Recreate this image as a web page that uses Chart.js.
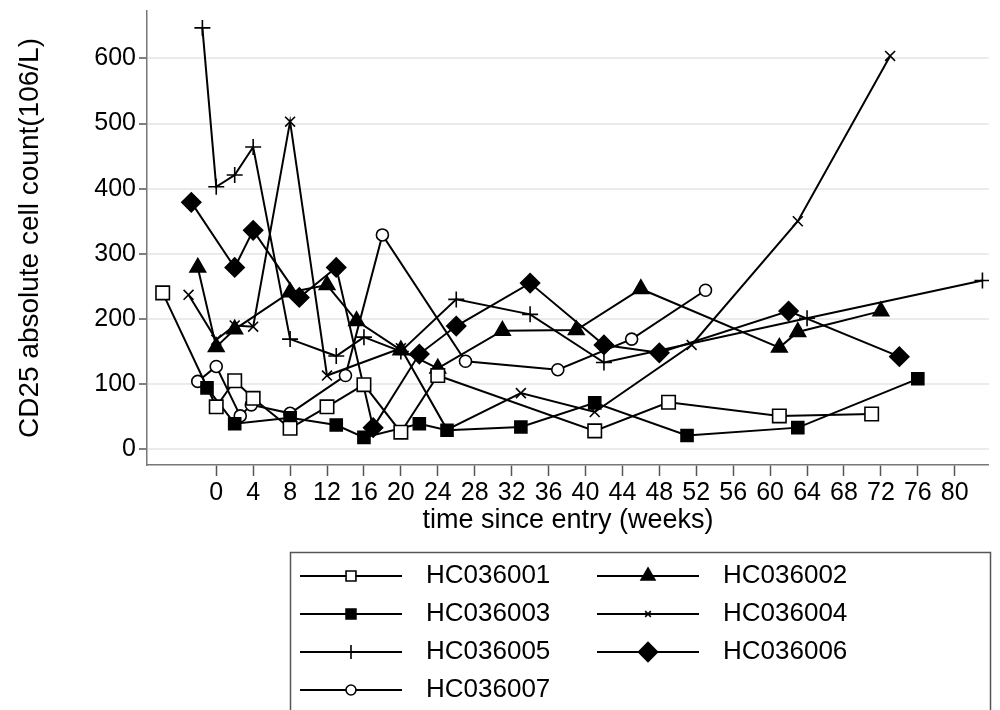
<!DOCTYPE html>
<html>
<head>
<meta charset="utf-8">
<script src="https://cdn.jsdelivr.net/npm/chart.js@4"></script>
<style>
  html, body { margin: 0; padding: 0; background: #fff; }
  #wrap { width: 1000px; height: 710px; }
</style>
</head>
<body>
<div id="wrap"><canvas id="chart" width="1000" height="710"></canvas></div>
<script>
// тики осей
const xTicks = [0, 4, 8, 12, 16, 20, 24, 28, 32, 36, 40, 44, 48, 52, 56, 60, 64, 68, 72, 76, 80];
const yTicks = [0, 100, 200, 300, 400, 500, 600];

// пациенты
const patients = ["HC036001", "HC036002", "HC036003", "HC036004", "HC036005", "HC036006", "HC036007"];

// недели и значения CD25 по каждому пациенту
const weeks001 = [-5.8, 0, 2, 4, 8, 12, 16, 20, 24, 41, 49, 61, 71];
const cd25_001 = [240, 65, 105, 78, 32, 65, 99, 26, 113, 28, 72, 51, 54];

const weeks002 = [-2, 0, 2, 8, 12, 15.2, 20, 24, 31, 39, 46, 61, 63, 72];
const cd25_002 = [279, 157, 184, 241, 252, 197, 152, 124, 182, 183, 246, 156, 180, 212];

const weeks003 = [-1, 2, 8, 13, 16, 22, 25, 33, 41, 51, 63, 76];
const cd25_003 = [94, 39, 48, 37, 18, 39, 29, 34, 71, 21, 33, 108];

const weeks004 = [-3, 0, 2, 4, 8, 12, 20, 25, 33, 41, 51.5, 63, 73];
const cd25_004 = [237, 168, 190, 188, 503, 113, 155, 30, 86, 57, 160, 350, 604];

const weeks005 = [-1.5, 0, 2, 4, 8, 13, 16, 20, 26, 34, 42, 64, 83];
const cd25_005 = [647, 403, 421, 464, 169, 143, 172, 150, 230, 207, 133, 201, 259];

const weeks006 = [-2.7, 2, 4, 9, 13, 17, 22, 26, 34, 42, 48, 62, 74];
const cd25_006 = [379, 279, 336, 233, 279, 33, 146, 189, 255, 160, 148, 212, 142];

const weeks007 = [-2, 0, 2.6, 3.8, 8, 14, 18, 27, 37, 45, 53];
const cd25_007 = [104, 127, 51, 68, 55, 113, 329, 135, 122, 169, 244];


// склеиваем x и y в точки
function points(xs, ys) {
  return xs.map((x, i) => ({ x: x, y: ys[i] }));
}

// стиль серии
function series(label, xs, ys, style, radius, filled) {
  return {
    label: label,
    data: points(xs, ys),
    borderColor: "#000",
    borderWidth: 2,
    pointStyle: style,
    pointRadius: radius,
    pointBorderWidth: 1.6,
    pointBorderColor: "#000",
    pointBackgroundColor: filled ? "#000" : "#fff",
    tension: 0
  };
}

const datasets = [
  series(patients[0], weeks001, cd25_001, "rect", 9.5, false),
  series(patients[1], weeks002, cd25_002, "triangle", 9, true),
  series(patients[2], weeks003, cd25_003, "rect", 8.5, true),
  series(patients[3], weeks004, cd25_004, "crossRot", 7, false),
  series(patients[4], weeks005, cd25_005, "cross", 8, false),
  series(patients[5], weeks006, cd25_006, "rectRot", 9.5, true),
  series(patients[6], weeks007, cd25_007, "circle", 6, false)
];

// размеры маркеров в легенде
const legendRadius = [7, 8, 7, 4, 7, 9.5, 5];

const fontFamily = '"Liberation Sans", Arial, sans-serif';


// легенда в рамке под графиком
const boxLegend = {
  id: "boxLegend",
  afterDraw(chart) {
    const ctx = chart.ctx;
    ctx.save();
    ctx.strokeStyle = "#555";
    ctx.lineWidth = 1.5;
    ctx.strokeRect(290.5, 552.5, 700, 200);

    chart.data.datasets.forEach((ds, i) => {
      const col = i % 2;
      const row = Math.floor(i / 2);
      const x0 = col === 0 ? 300 : 597;
      const y = 576 + row * 38;

      ctx.strokeStyle = "#000";
      ctx.lineWidth = 2;
      ctx.beginPath();
      ctx.moveTo(x0, y);
      ctx.lineTo(x0 + 102, y);
      ctx.stroke();

      ctx.fillStyle = ds.pointBackgroundColor;
      ctx.strokeStyle = "#000";
      ctx.lineWidth = 1.6;
      Chart.helpers.drawPoint(ctx, {
        pointStyle: ds.pointStyle,
        radius: legendRadius[i],
        borderWidth: 1.6,
        rotation: 0
      }, x0 + 51, y);

      ctx.fillStyle = "#000";
      ctx.font = "26px " + fontFamily;
      ctx.textBaseline = "middle";
      ctx.textAlign = "left";
      ctx.fillText(ds.label, x0 + 126, y);
    });
    ctx.restore();
  }
};


// создаем график
const chart = new Chart(document.getElementById("chart"), {
  type: "line",
  data: { datasets: datasets },
  plugins: [boxLegend],
  options: {
    responsive: false,
    animation: false,
    devicePixelRatio: 1,
    layout: { padding: { left: 0, right: 0, top: 8, bottom: 173 } },
    plugins: {
      legend: { display: false },
      tooltip: { enabled: false }
    },
    scales: {
      x: {
        type: "linear",
        min: -7.5,
        max: 83.7,
        afterBuildTicks: (scale) => {
          scale.ticks = xTicks.map(v => ({ value: v }));
        },
        afterFit: (scale) => {
          scale.height = 72;
          scale.paddingLeft = 0;
          scale.paddingRight = 0;
        },
        ticks: {
          autoSkip: false,
          maxRotation: 0,
          color: "#000",
          padding: 2,
          font: { family: fontFamily, size: 25 }
        },
        grid: {
          drawOnChartArea: false,
          tickLength: 11,
          tickColor: "#555",
          tickWidth: 1.5
        },
        border: { color: "#777", width: 1.5 },
        title: {
          display: true,
          text: "time since entry (weeks)",
          color: "#000",
          padding: { top: 0, bottom: 0 },
          font: { family: fontFamily, size: 27 }
        }
      },
      y: {
        min: -24.4,
        max: 672.8,
        afterBuildTicks: (scale) => {
          scale.ticks = yTicks.map(v => ({ value: v }));
        },
        afterFit: (scale) => {
          scale.width = 147;
          scale.paddingTop = 0;
          scale.paddingBottom = 0;
        },
        ticks: {
          color: "#000",
          padding: 3,
          font: { family: fontFamily, size: 25 }
        },
        grid: {
          color: "#ebebeb",
          lineWidth: 2,
          tickLength: 8,
          tickColor: "#555",
          tickWidth: 1.5
        },
        border: { color: "#777", width: 1.5 },
        title: {
          display: true,
          text: "CD25 absolute cell count(106/L)",
          color: "#000",
          padding: { top: 13, bottom: 0 },
          font: { family: fontFamily, size: 28 }
        }
      }
    }
  }
});
</script>
</body>
</html>
